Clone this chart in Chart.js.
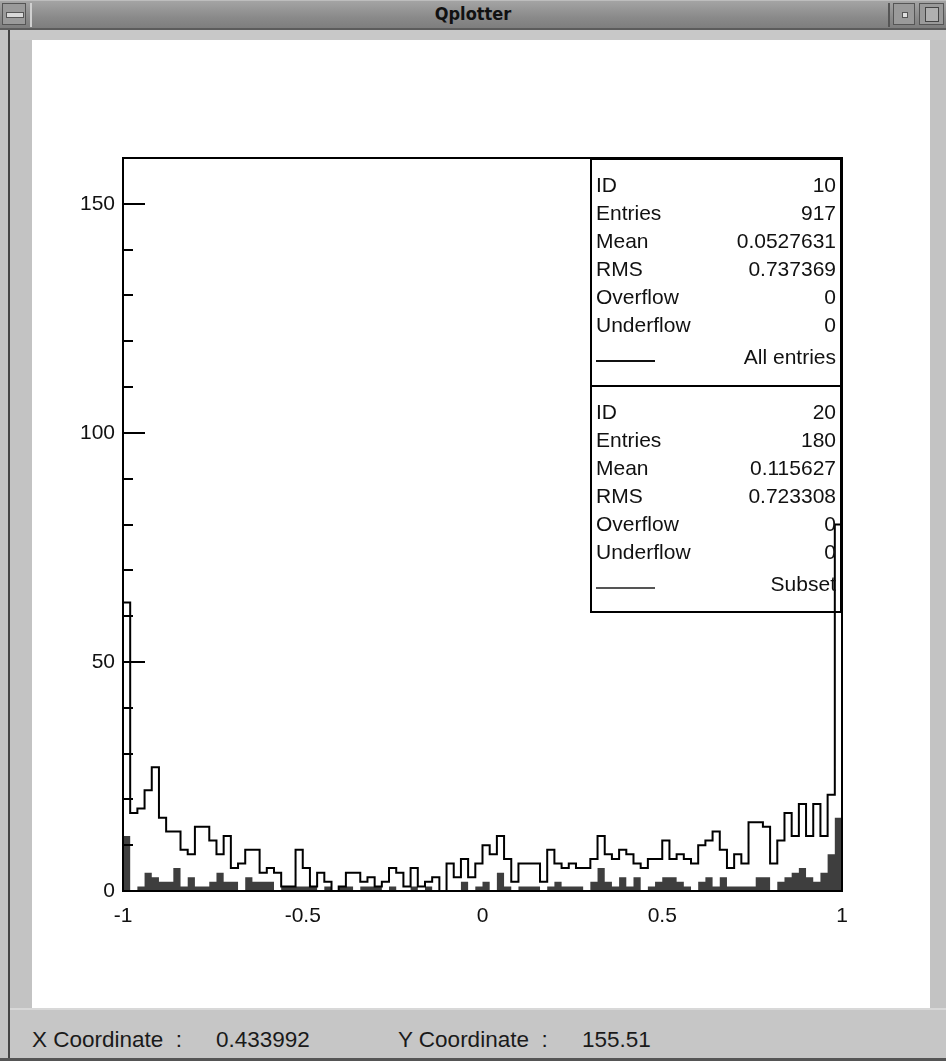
<!DOCTYPE html>
<html>
<head>
<meta charset="utf-8">
<script src="https://cdn.jsdelivr.net/npm/chart.js@4.4.1/dist/chart.umd.min.js"></script>
<style>
  html, body { margin:0; padding:0; width:946px; height:1061px; overflow:hidden; background:#c3c3c3;
    font-family:"Liberation Sans", Arial, sans-serif; }
  #leftline { position:absolute; left:8px; top:30px; width:2px; height:1031px; background:#444; }
  #titlebar { position:absolute; left:0; top:0; width:946px; height:30px;
    background:linear-gradient(#a4a4a4,#8a8a8a 60%,#7e7e7e);
    border-top:1px solid #bdbdbd; border-bottom:2px solid #5c5c5c; box-sizing:border-box; }
  #tbmain { position:absolute; left:30px; top:2px; width:860px; height:24px; border-left:2px solid #d0d0d0;
    border-right:2px solid #555; box-sizing:border-box; }
  #title { position:absolute; left:0; top:0; width:946px; height:28px; line-height:28px; text-align:center;
    font-family:"Liberation Sans Narrow","DejaVu Sans Condensed","Liberation Sans",sans-serif; font-weight:bold;
    font-size:18px; color:#111; }
  #btnl { position:absolute; left:2px; top:3px; width:24px; height:22px; background:#9a9a9a;
    border:1px solid #555; box-sizing:border-box; }
  #btnl div { position:absolute; left:3px; top:8px; width:16px; height:4px; background:#d8d8d8; border:1px solid #555; }
  #btnr1 { position:absolute; left:893px; top:3px; width:22px; height:22px; background:#9a9a9a;
    border:1px solid #555; box-sizing:border-box; }
  #btnr1 div { position:absolute; left:8px; top:8px; width:4px; height:4px; background:#e0e0e0; border:1px solid #555; }
  #btnr2 { position:absolute; left:919px; top:3px; width:25px; height:22px; background:#9a9a9a;
    border:1px solid #555; box-sizing:border-box; }
  #btnr2 div { position:absolute; left:5px; top:3px; width:12px; height:13px; background:#b0b0b0; border:1px solid #444; }
  #band { position:absolute; left:10px; top:30px; width:936px; height:10px; background:#c8c8c8; }
  #white { position:absolute; left:32px; top:40px; width:898px; height:968px; background:#fff; }
  #chartwrap { position:absolute; left:32px; top:40px; width:898px; height:968px; }
  #status { position:absolute; left:10px; top:1008px; width:936px; height:50px; background:#c6c6c6;
    border-top:2px solid #d8d8d8; box-sizing:border-box; }
  #bottomline { position:absolute; left:0; top:1058px; width:946px; height:3px; background:#555; }
  .st { position:absolute; top:1028px; font-size:22.5px; color:#1a1a1a; line-height:24px; white-space:pre; }
  .box { position:absolute; left:590px; width:252px; border:2px solid #000; box-sizing:border-box;
    font-size:21px; color:#111; padding:11px 4px 0 4px; }
  .row { display:flex; justify-content:space-between; height:28px; line-height:28px; white-space:nowrap; }
  .leg { margin-top:4px; }
  .leg span.ln { display:inline-block; width:59px; height:0; border-top:2px solid #111; margin-top:17px; }
</style>
</head>
<body>
<div id="titlebar"><div id="tbmain"></div></div>
<div id="btnl"><div></div></div>
<div id="btnr1"><div></div></div>
<div id="btnr2"><div></div></div>
<div id="title">Qplotter</div>
<div id="band"></div>
<div id="leftline"></div>
<div id="white"></div>
<div id="chartwrap"><canvas id="c" width="898" height="968"></canvas></div>
<div id="box1" class="box" style="top:158px;height:229px;"></div>
<div id="box2" class="box" style="top:385px;height:228px;"></div>
<div id="status"></div>
<div id="bottomline"></div>
<div class="st" style="left:32px;">X Coordinate  :</div>
<div class="st" style="left:216px;">0.433992</div>
<div class="st" style="left:398px;">Y Coordinate  :</div>
<div class="st" style="left:582px;">155.51</div>

<script>
// Histogram binning (100 bins from -1 to 1)
const binRange = [-1, 1];
const nBins = 100;

// Histogram 10: "All entries" (counts per bin)
const allEntries = [
  63,17,18,22,27,16,13,13, 9, 8,
  14,14,11, 8,12, 5, 6, 9, 9, 4,
   5, 4, 1, 1, 9, 5, 1, 4, 2, 0,
   1, 4, 4, 2, 3, 1, 2, 5, 4, 1,
   5, 1, 2, 3, 0, 6, 3, 7, 3, 6,
  10, 8,12, 7, 2, 6, 6, 6, 2, 9,
   6, 5, 6, 5, 5, 7,12, 8, 7, 9,
   8, 6, 5, 7, 7,11, 7, 8, 7, 6,
  10,11,13, 9, 5, 8, 6,15,15,14,
   6,11,17,12,19,12,19,12,21,80
];

// Histogram 20: "Subset" (counts per bin)
const subset = [
  12, 0, 1, 4, 3, 2, 2, 5, 1, 3,
   1, 1, 2, 4, 2, 2, 0, 3, 2, 2,
   2, 0, 1, 1, 1, 1, 1, 0, 1, 0,
   1, 1, 0, 1, 1, 1, 0, 1, 0, 0,
   1, 0, 1, 0, 0, 0, 0, 2, 0, 1,
   2, 0, 4, 1, 0, 1, 1, 1, 0, 1,
   2, 1, 1, 1, 0, 2, 5, 2, 1, 3,
   1, 3, 0, 1, 2, 3, 3, 2, 1, 0,
   2, 3, 1, 3, 1, 1, 1, 1, 3, 3,
   0, 2, 3, 4, 5, 3, 2, 4, 8,16
];

// Axis ticks
const xTickValues = [-1, -0.5, 0, 0.5, 1];
const xTickLabels = ['-1', '-0.5', '0', '0.5', '1'];
const yTickValues = [0,10,20,30,40,50,60,70,80,90,100,110,120,130,140,150];
const yLabelValues = [0, 50, 100, 150];
const yRange = [0, 160];

// Statistics boxes
const stats1 = [['ID','10'],['Entries','917'],['Mean','0.0527631'],['RMS','0.737369'],['Overflow','0'],['Underflow','0']];
const stats2 = [['ID','20'],['Entries','180'],['Mean','0.115627'],['RMS','0.723308'],['Overflow','0'],['Underflow','0']];
const legend1 = 'All entries';
const legend2 = 'Subset';

function fillBox(id, rows, legend, lineColor) {
  const el = document.getElementById(id);
  let html = '';
  rows.forEach(r => { html += '<div class="row"><span>' + r[0] + '</span><span>' + r[1] + '</span></div>'; });
  html += '<div class="row leg"><span class="ln" style="border-top-color:' + lineColor + '"></span><span>' + legend + '</span></div>';
  el.innerHTML = html;
}
fillBox('box1', stats1, legend1, '#111');
fillBox('box2', stats2, legend2, '#555');

// Step-histogram points at bin low edges
function histPoints(counts) {
  const w = (binRange[1] - binRange[0]) / nBins;
  const pts = [{x: binRange[0], y: 0}];
  counts.forEach((c, i) => pts.push({x: binRange[0] + i * w, y: c}));
  pts.push({x: binRange[1], y: counts[counts.length - 1]});
  pts.push({x: binRange[1], y: 0});
  return pts;
}

const framePlugin = {
  id: 'frame',
  afterDatasetsDraw(chart) {
    const ctx = chart.ctx, a = chart.chartArea, y = chart.scales.y;
    ctx.save();
    ctx.strokeStyle = '#000';
    ctx.lineWidth = 2;
    ctx.strokeRect(a.left, a.top, a.right - a.left, a.bottom - a.top);
    y.ticks.forEach(t => {
      const py = Math.round(y.getPixelForValue(t.value));
      const len = yLabelValues.includes(t.value) ? 22 : 10;
      ctx.beginPath();
      ctx.moveTo(a.left, py);
      ctx.lineTo(a.left + len, py);
      ctx.stroke();
    });
    ctx.restore();
  }
};

const tickFont = {family: '"Liberation Sans", Arial, sans-serif', size: 21};

new Chart(document.getElementById('c'), {
  type: 'line',
  data: {
    datasets: [
      {
        label: 'All entries',
        data: histPoints(allEntries),
        stepped: 'before',
        borderColor: '#000',
        borderWidth: 2,
        pointRadius: 0,
        fill: false
      },
      {
        label: 'Subset',
        data: histPoints(subset),
        stepped: 'before',
        borderColor: 'rgba(0,0,0,0)',
        borderWidth: 0,
        backgroundColor: '#3e3e3e',
        pointRadius: 0,
        fill: 'origin'
      }
    ]
  },
  options: {
    responsive: false,
    devicePixelRatio: 1,
    animation: false,
    events: [],
    layout: {padding: {left: 0, top: 118, right: 88, bottom: 77}},
    plugins: {legend: {display: false}, tooltip: {enabled: false}},
    scales: {
      x: {
        type: 'linear',
        min: binRange[0], max: binRange[1],
        grid: {display: false, drawTicks: false},
        border: {display: false},
        afterBuildTicks: s => { s.ticks = xTickValues.map(v => ({value: v})); },
        afterFit: s => { s.height = 40; },
        ticks: {
          autoSkip: false, maxRotation: 0, padding: 13,
          color: '#111', font: tickFont,
          callback: (v, i) => xTickLabels[i]
        }
      },
      y: {
        type: 'linear',
        min: yRange[0], max: yRange[1],
        grid: {display: false, drawTicks: false},
        border: {display: false},
        afterBuildTicks: s => { s.ticks = yTickValues.map(v => ({value: v})); },
        afterFit: s => { s.width = 91; },
        ticks: {
          autoSkip: false, padding: 8,
          color: '#111', font: tickFont,
          callback: v => yLabelValues.includes(v) ? String(v) : ''
        }
      }
    }
  },
  plugins: [framePlugin]
});
</script>
</body>
</html>
